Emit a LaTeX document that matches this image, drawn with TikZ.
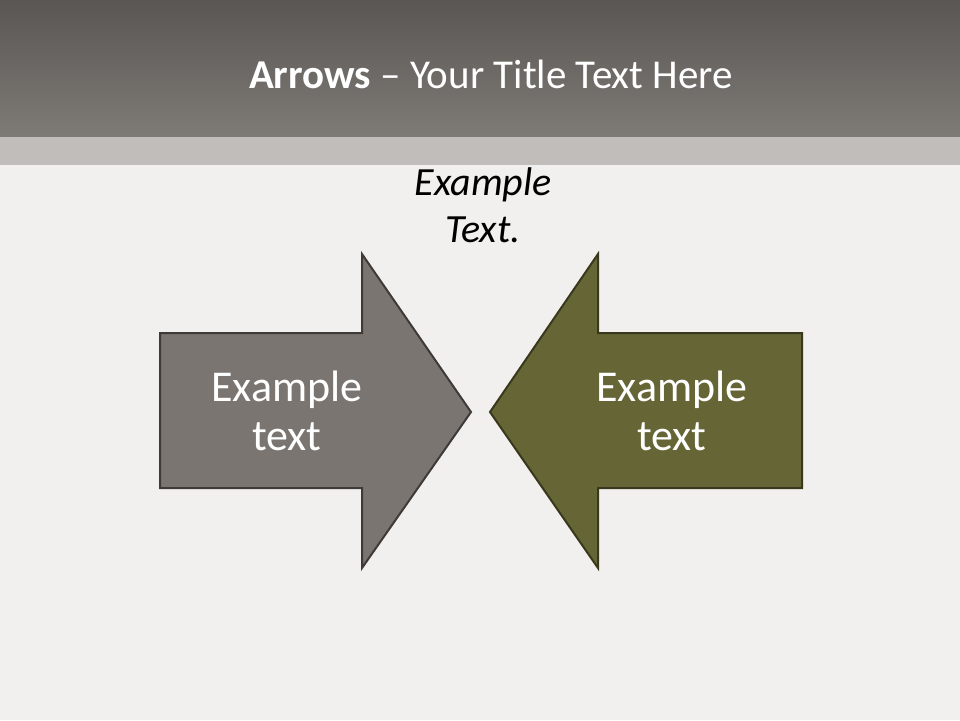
\documentclass[tikz,border=0pt]{standalone}
\usepackage{fontspec}
\setmainfont{Carlito}
\begin{document}
\begin{tikzpicture}[x=1pt,y=-1pt,
  arrowL/.style={fill=leftfill,draw=leftline,line width=2pt,line join=miter},
  arrowR/.style={fill=rightfill,draw=rightline,line width=2pt,line join=miter},
  boxtext/.style={text=white,font=\fontsize{44}{49}\selectfont,align=center,inner sep=0pt}]
\definecolor{bg}{RGB}{242,240,238}
\definecolor{bartop}{RGB}{90,86,83}
\definecolor{barbot}{RGB}{126,122,118}
\definecolor{strip}{RGB}{192,189,186}
\definecolor{leftfill}{RGB}{122,117,113}
\definecolor{leftline}{RGB}{62,58,55}
\definecolor{rightfill}{RGB}{102,101,53}
\definecolor{rightline}{RGB}{56,56,28}
\useasboundingbox (0,0) rectangle (960,720);
\fill[bg] (0,0) rectangle (960,720);
\shade[top color=bartop,bottom color=barbot] (0,0) rectangle (960,137);
\fill[strip] (0,137) rectangle (960,165);
\node[text=white,font=\fontsize{41}{48}\selectfont,anchor=base] (title) at (491,88)
  {\textbf{Arrows} – Your Title Text Here};
\node[font=\fontsize{40}{47}\selectfont\itshape,align=center,anchor=base] (top) at (483,242)
  {Example\\Text.};
% left arrow
\draw[arrowL] (160,333) -- (362,333) -- (362,254) -- (471,412) -- (362,568) -- (362,488) -- (160,488) -- cycle;
\node[boxtext] (lt) at (287,411) {Example\\text};
% right arrow
\draw[arrowR] (802,333) -- (598,333) -- (598,254) -- (490,412) -- (598,568) -- (598,488) -- (802,488) -- cycle;
\node[boxtext] (rt) at (672,411) {Example\\text};
\end{tikzpicture}
\end{document}
